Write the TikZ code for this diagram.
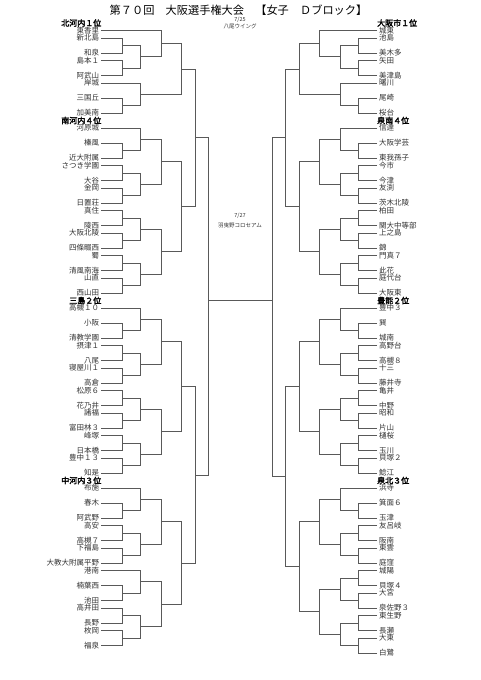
\documentclass[tikz,border=0pt]{standalone}
\usepackage{fontspec}
\newfontfamily\jp[AutoFakeBold=2.5]{Noto Sans CJK JP}
\usetikzlibrary{calc}
\tikzset{
 br/.style={draw=black!65, line width=0.7pt},
 tname/.style={inner sep=0pt, outer sep=2pt, font=\jp\fontsize{7.5}{7.5}\selectfont, text=black!80},
 tl/.style={tname, anchor=east},
 tr/.style={tname, anchor=west},
 hname/.style={inner sep=0pt, font=\jp\bfseries\fontsize{8}{8}\selectfont},
 hl/.style={hname, anchor=east},
 hr/.style={hname, anchor=west},
 small/.style={inner sep=0pt, font=\jp\fontsize{5.5}{5.5}\selectfont, text=black!80},
}
\newcommand\mt[4]{%
 \coordinate (#1t) at ($(#2)!.5!(#3)$);
 \coordinate (#1) at (#1t -| #4);
 \draw[br] (#2) -| (#1);
 \draw[br] (#3) -| (#1);}
\begin{document}
\begin{tikzpicture}[x=1pt,y=-1pt]
\useasboundingbox[fill=white] (0,0) rectangle (481,680);
% columns
\coordinate (cL1) at (122,0); \coordinate (cL2) at (140,0); \coordinate (cL3) at (161,0);
\coordinate (cL4) at (181,0); \coordinate (cL5) at (195,0); \coordinate (cL6) at (208,0);
\coordinate (cR1) at (358,0); \coordinate (cR2) at (340,0); \coordinate (cR3) at (319,0);
\coordinate (cR4) at (299,0); \coordinate (cR5) at (285,0); \coordinate (cR6) at (272,0);
% title
\node[inner sep=0pt, font=\jp\fontsize{11.2}{11.2}\selectfont] (title) at (238.5,10) {第７０回　大阪選手権大会　【女子　Ｄブロック】};
\node[small] (d1) at (240,19.5) {7/25};
\node[small] (p1) at (240,26.5) {八尾ウイング};
\node[small] (d2) at (240,216) {7/27};
\node[small] (p2) at (240,225) {羽曳野コロセアム};
% headers
\node[hl] (hl0) at (101.5,23) {北河内１位};
\node[hl] (hl13) at (101.5,120.5) {南河内４位};
\node[hl] (hl37) at (101.5,300.5) {三島２位};
\node[hl] (hl61) at (101.5,480.5) {中河内３位};
\node[hr] (hr0) at (377,23) {大阪市１位};
\node[hr] (hr13) at (377,120.5) {泉南４位};
\node[hr] (hr37) at (377,300.5) {豊能２位};
\node[hr] (hr61) at (377,480.5) {泉北３位};
% left teams
\foreach \k/\n in {1/東香里,2/新北島,4/和泉,5/島本１,7/阿武山,8/岸城,10/三国丘,12/加美南,
 14/河原城,16/榛風,18/近大附属,19/さつき学園,21/大谷,22/金岡,24/日置荘,25/真住,27/陵西,28/大阪北陵,30/四條畷西,31/蜀,33/清風南海,34/山直,36/西山田,
 38/高槻１０,40/小阪,42/清教学園,43/摂津１,45/八尾,46/寝屋川１,48/高倉,49/松原６,51/花乃井,52/諸福,54/富田林３,55/峰塚,57/日本橋,58/豊中１３,60/知是,
 62/布施,64/春木,66/阿武野,67/高安,69/高槻７,70/下福島,72/大教大附属平野,73/港南,75/楠葉西,77/池田,78/高井田,80/長野,81/枚岡,83/福泉}
 {\node[tl] (l\k) at (101,{23+7.5*\k}) {\n};}
% right teams
\foreach \k/\n in {1/城東,2/池島,4/美木多,5/矢田,7/美津島,8/曙川,10/尾崎,12/桜台,
 14/信達,16/大阪学芸,18/東我孫子,19/今市,21/今津,22/友渕,24/茨木北陵,25/柏田,27/関大中等部,28/上之島,30/錦,31/門真７,33/此花,34/庭代台,36/大阪東,
 38/豊中３,40/巽,42/城南,43/高野台,45/高槻８,46/十三,48/藤井寺,49/亀井,51/中野,52/昭和,54/片山,55/樋桜,57/玉川,58/貝塚２,60/鯰江,
 62/浜寺,64/箕面６,66/玉津,67/友呂岐,69/阪南,70/東雲,72/庭窪,73/城陽,75/貝塚４,76/大宮,78/泉佐野３,79/東生野,81/長瀬,82/大東,84/白鷺}
 {\node[tr] (r\k) at (377,{23+7.5*\k}) {\n};}
% ---------- left bracket
\mt{la1}{l2}{l4}{cL1} \mt{la2}{l5}{l7}{cL1} \mt{la3}{l10}{l12}{cL1}
\mt{lb1}{la1}{la2}{cL2} \mt{lb2}{l8}{la3}{cL2}
\mt{lc1}{l1}{lb1}{cL3} \mt{ld1}{lc1}{lb2}{cL4}
\mt{la4}{l16}{l18}{cL1} \mt{la5}{l19}{l21}{cL1} \mt{la6}{l22}{l24}{cL1} \mt{la7}{l25}{l27}{cL1}
\mt{la8}{l28}{l30}{cL1} \mt{la9}{l31}{l33}{cL1} \mt{la10}{l34}{l36}{cL1}
\mt{lb3}{l14}{la4}{cL2} \mt{lb4}{la5}{la6}{cL2} \mt{lb5}{la7}{la8}{cL2} \mt{lb6}{la9}{la10}{cL2}
\mt{lc2}{lb3}{lb4}{cL3} \mt{lc3}{lb5}{lb6}{cL3} \mt{ld2}{lc2}{lc3}{cL4}
\mt{le1}{ld1}{ld2}{cL5}
\mt{la11}{l40}{l42}{cL1} \mt{la12}{l43}{l45}{cL1} \mt{la13}{l46}{l48}{cL1} \mt{la14}{l49}{l51}{cL1}
\mt{la15}{l52}{l54}{cL1} \mt{la16}{l55}{l57}{cL1} \mt{la17}{l58}{l60}{cL1}
\mt{lb7}{l38}{la11}{cL2} \mt{lb8}{la12}{la13}{cL2} \mt{lb9}{la14}{la15}{cL2} \mt{lb10}{la16}{la17}{cL2}
\mt{lc4}{lb7}{lb8}{cL3} \mt{lc5}{lb9}{lb10}{cL3} \mt{ld3}{lc4}{lc5}{cL4}
\mt{la18}{l64}{l66}{cL1} \mt{la19}{l67}{l69}{cL1} \mt{la20}{l70}{l72}{cL1} \mt{la21}{l75}{l77}{cL1}
\mt{la22}{l78}{l80}{cL1} \mt{la23}{l81}{l83}{cL1}
\mt{lb11}{l62}{la18}{cL2} \mt{lb12}{la19}{la20}{cL2} \mt{lb13}{l73}{la21}{cL2} \mt{lb14}{la22}{la23}{cL2}
\mt{lc6}{lb11}{lb12}{cL3} \mt{lc7}{lb13}{lb14}{cL3} \mt{ld4}{lc6}{lc7}{cL4}
\mt{le2}{ld3}{ld4}{cL5}
\mt{lf}{le1}{le2}{cL6}
% ---------- right bracket
\mt{ra1}{r2}{r4}{cR1} \mt{ra2}{r5}{r7}{cR1} \mt{ra3}{r10}{r12}{cR1}
\mt{rb1}{ra1}{ra2}{cR2} \mt{rb2}{r8}{ra3}{cR2}
\mt{rc1}{r1}{rb1}{cR3} \mt{rd1}{rc1}{rb2}{cR4}
\mt{ra4}{r16}{r18}{cR1} \mt{ra5}{r19}{r21}{cR1} \mt{ra6}{r22}{r24}{cR1} \mt{ra7}{r25}{r27}{cR1}
\mt{ra8}{r28}{r30}{cR1} \mt{ra9}{r31}{r33}{cR1} \mt{ra10}{r34}{r36}{cR1}
\mt{rb3}{r14}{ra4}{cR2} \mt{rb4}{ra5}{ra6}{cR2} \mt{rb5}{ra7}{ra8}{cR2} \mt{rb6}{ra9}{ra10}{cR2}
\mt{rc2}{rb3}{rb4}{cR3} \mt{rc3}{rb5}{rb6}{cR3} \mt{rd2}{rc2}{rc3}{cR4}
\mt{re1}{rd1}{rd2}{cR5}
\mt{ra11}{r40}{r42}{cR1} \mt{ra12}{r43}{r45}{cR1} \mt{ra13}{r46}{r48}{cR1} \mt{ra14}{r49}{r51}{cR1}
\mt{ra15}{r52}{r54}{cR1} \mt{ra16}{r55}{r57}{cR1} \mt{ra17}{r58}{r60}{cR1}
\mt{rb7}{r38}{ra11}{cR2} \mt{rb8}{ra12}{ra13}{cR2} \mt{rb9}{ra14}{ra15}{cR2} \mt{rb10}{ra16}{ra17}{cR2}
\mt{rc4}{rb7}{rb8}{cR3} \mt{rc5}{rb9}{rb10}{cR3} \mt{rd3}{rc4}{rc5}{cR4}
\mt{ra18}{r64}{r66}{cR1} \mt{ra19}{r67}{r69}{cR1} \mt{ra20}{r70}{r72}{cR1} \mt{ra21}{r73}{r75}{cR1}
\mt{ra22}{r76}{r78}{cR1} \mt{ra23}{r79}{r81}{cR1} \mt{ra24}{r82}{r84}{cR1}
\mt{rb11}{r62}{ra18}{cR2} \mt{rb12}{ra19}{ra20}{cR2} \mt{rb13}{ra21}{ra22}{cR2} \mt{rb14}{ra23}{ra24}{cR2}
\mt{rc6}{rb11}{rb12}{cR3} \mt{rc7}{rb13}{rb14}{cR3} \mt{rd4}{rc6}{rc7}{cR4}
\mt{re2}{rd3}{rd4}{cR5}
\mt{rf}{re1}{re2}{cR6}
% final
\coordinate (finL) at (208,300);
\coordinate (finR) at (272,300);
\draw[br] (finL) -- (finR);
\end{tikzpicture}
\end{document}
